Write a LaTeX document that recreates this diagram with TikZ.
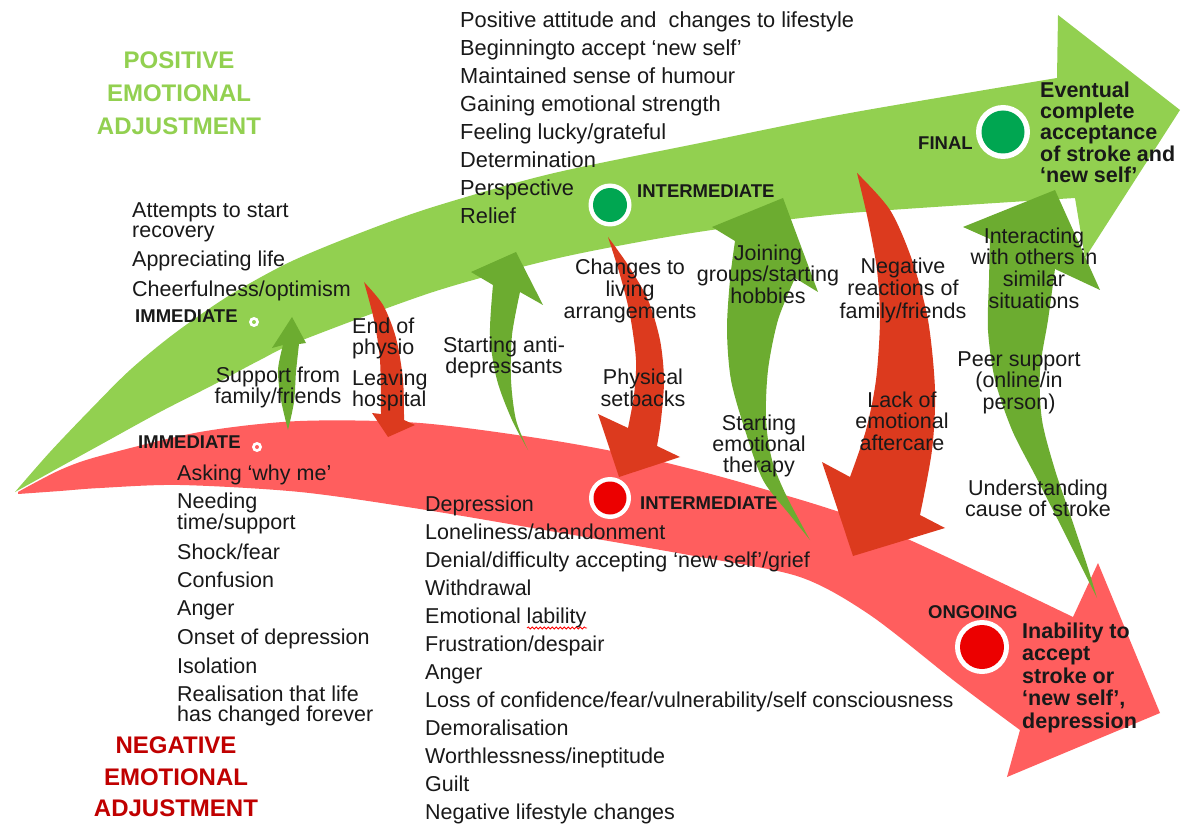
\documentclass[tikz,border=0pt]{standalone}
\usepackage{fontspec}
\setmainfont{Liberation Sans}
\usetikzlibrary{decorations.pathmorphing}
\definecolor{bandG}{RGB}{146,208,80}
\definecolor{arrG}{RGB}{108,172,48}
\definecolor{bandR}{RGB}{255,94,94}
\definecolor{arrR}{RGB}{220,58,30}
\definecolor{dotG}{RGB}{0,166,81}
\definecolor{dotR}{RGB}{236,0,0}
\definecolor{titG}{RGB}{146,208,80}
\definecolor{titR}{RGB}{192,0,0}
\definecolor{txt}{RGB}{25,25,25}
\begin{document}
\begin{tikzpicture}[x=1pt,y=-1pt,
  lbl/.style={inner sep=0pt, text=txt, font=\fontsize{21.5}{21.5}\selectfont},
  clbl/.style={lbl, align=center, anchor=north},
  llist/.style={lbl, align=left, anchor=north west},
  stage/.style={inner sep=0pt, text=txt, font=\bfseries\fontsize{18.5}{18.5}\selectfont, anchor=base west},
  outcome/.style={inner sep=0pt, text=txt, align=left, anchor=north west},
  title/.style={inner sep=0pt, align=center, anchor=north},
]
\useasboundingbox (0,0) rectangle (1187,829);
\fill[white] (0,0) rectangle (1187,829);

% positive band
\fill[bandG] plot[smooth] coordinates {(15,492) (50,452) (90,410) (130,370) (175,333) (230,295) (290,262) (360,233) (433,207) (550,174) (700,143) (850,113) (1057,78)}
  -- (1058,15) -- (1180,110) -- (1085,258)
  -- plot[smooth] coordinates {(1075,198) (850,213) (733,227) (650,240) (550,260) (433,292) (300,341) (260,360) (213,385) (160,412) (100,445) (60,467) (15,492)} -- cycle;

% negative band
\fill[bandR] plot[smooth] coordinates {(18,492) (60,470) (100,456) (200,432) (300,421) (420,423) (550,440) (650,459) (750,485) (880,527) (1073,617)}
  -- (1098,563) -- (1160,713) -- (1007,777)
  -- plot[smooth] coordinates {(1020,730) (957,683) (870,615) (800,577) (700,557) (550,531) (420,509) (300,492) (180,485) (100,488) (60,491) (18,494)} -- cycle;

% red influence arrows
\fill[arrR] plot[smooth] coordinates {(364,282) (374,320) (380,360) (381,414)} -- (372,413) -- (388,437) -- (415,425)
  -- plot[smooth] coordinates {(404,420) (403,380) (396,338) (383,305) (364,282)} -- cycle;
\fill[arrR] plot[smooth] coordinates {(608,237) (628,265) (648,300) (660,340) (664,380) (661,420) (657,446)} -- (680,457) -- (619,477) -- (598,414)
  -- plot[smooth] coordinates {(628,428) (634,395) (636,360) (630,315) (620,275) (608,237)} -- cycle;
\fill[arrR] plot[smooth] coordinates {(857,173) (890,210) (912,260) (928,320) (935,390) (932,450) (920,515)} -- (945,528) -- (853,556) -- (822,462)
  -- plot[smooth] coordinates {(850,477) (866,430) (876,380) (880,320) (877,270) (868,220) (857,173)} -- cycle;

% green influence arrows
\fill[arrG] plot[smooth] coordinates {(288,430) (281,400) (278,370) (283,345)} -- (272,348) -- (292,317) -- (306,343)
  -- plot[smooth] coordinates {(299,344) (296,372) (294,402) (288,430)} -- cycle;
\fill[arrG] plot[smooth] coordinates {(528,450) (512,420) (497,380) (490,335) (493,285)} -- (471,272) -- (516,252) -- (543,305)
  -- plot[smooth] coordinates {(520,292) (512,335) (511,380) (516,420) (528,450)} -- cycle;
\fill[arrG] plot[smooth] coordinates {(810,540) (790,515) (763,480) (745,430) (731,380) (727,330) (730,280) (735,241)} -- (712,227) -- (783,198) -- (818,292)
  -- plot[smooth] coordinates {(795,278) (778,320) (768,370) (766,420) (772,460) (786,495) (810,540)} -- cycle;
\fill[arrG] plot[smooth] coordinates {(1097,598) (1078,560) (1058,520) (1035,475) (1012,430) (995,380) (988,330) (989,280) (990,239)} -- (963,227) -- (1055,190) -- (1100,290)
  -- plot[smooth] coordinates {(1055,269) (1048,320) (1040,370) (1042,420) (1055,470) (1072,520) (1087,565) (1097,598)} -- cycle;

% stage dots
\fill[white] (254,322) circle (5pt); \fill[bandG] (254,322) circle (2pt);
\fill[white] (257,447) circle (5pt); \fill[bandR] (257,447) circle (2pt);
\fill[white] (610,205) circle (21.5pt); \fill[dotG] (610,205) circle (17pt);
\fill[white] (1003,132) circle (27pt); \fill[dotG] (1003,132) circle (21.5pt);
\fill[white] (610,498) circle (21pt); \fill[dotR] (610,498) circle (16.5pt);
\fill[white] (982,647) circle (27pt); \fill[dotR] (982,647) circle (22pt);

% titles
\node[title, text=titG, font=\bfseries\fontsize{24}{33}\selectfont] (titG) at (179,52) {POSITIVE\\EMOTIONAL\\ADJUSTMENT};
\node[title, text=titR, font=\bfseries\fontsize{24}{31.5}\selectfont] (titR) at (176,737) {NEGATIVE\\EMOTIONAL\\ADJUSTMENT};

% stage labels
\node[stage] (immG) at (135,323) {IMMEDIATE};
\node[stage] (immR) at (138,448) {IMMEDIATE};
\node[stage] (intG) at (637,198) {INTERMEDIATE};
\node[stage] (intR) at (640,509) {INTERMEDIATE};
\node[stage] (fin) at (918,150) {FINAL};
\node[stage] (ong) at (928,618) {ONGOING};

% outcomes
\node[outcome, font=\bfseries\fontsize{21.5}{21.3}\selectfont] (event) at (1040,81.6) {Eventual\\complete\\acceptance\\of stroke and\\‘new self’};
\node[outcome, font=\bfseries\fontsize{21.5}{22.5}\selectfont] (inab) at (1022,622.5) {Inability to\\accept\\stroke or\\‘new self’,\\depression};

% lists
\node[llist, font=\fontsize{21.8}{28}\selectfont] (toplist) at (460,11.5) {Positive attitude and\ \ changes to lifestyle\\Beginningto accept ‘new self’\\Maintained sense of humour\\Gaining emotional strength\\Feeling lucky/grateful\\Determination\\Perspective\\Relief};
\node[llist, font=\fontsize{21.5}{19.5}\selectfont] (posimm) at (132,202.6) {Attempts to start\\recovery\\[8pt]Appreciating life\\[9pt]Cheerfulness/optimism};
\node[llist, font=\fontsize{21.5}{20}\selectfont] (negimm) at (177,464.5) {Asking ‘why me’\\[7.5pt]Needing\\time/support\\[8.5pt]Shock/fear\\[8pt]Confusion\\[8pt]Anger\\[8pt]Onset of depression\\[8pt]Isolation\\[8pt]Realisation that life\\has changed forever};
\node[llist, font=\fontsize{21.5}{28}\selectfont] (negint) at (425,495.5) {Depression\\Loneliness/abandonment\\Denial/difficulty accepting ‘new self’/grief\\Withdrawal\\Emotional lability\\Frustration/despair\\Anger\\Loss of confidence/fear/vulnerability/self consciousness\\Demoralisation\\Worthlessness/ineptitude\\Guilt\\Negative lifestyle changes};
\draw[red, line width=0.8pt, decorate, decoration={snake, amplitude=1.1pt, segment length=4pt}] (527,628) -- (587,628);

% influence labels
\node[clbl, font=\fontsize{21.5}{20}\selectfont] (sup) at (278,366.5) {Support from\\family/friends};
\node[llist, font=\fontsize{21.5}{21}\selectfont] (endp) at (352,317.5) {End of\\physio\\[10pt]Leaving\\hospital};
\node[clbl, font=\fontsize{21.5}{21}\selectfont] (anti) at (504,336.5) {Starting anti-\\depressants};
\node[clbl, font=\fontsize{21.5}{22}\selectfont] (chg) at (630,258.5) {Changes to\\living\\arrangements};
\node[clbl, font=\fontsize{21.5}{22}\selectfont] (phys) at (643,368.5) {Physical\\setbacks};
\node[clbl, font=\fontsize{21.5}{21.5}\selectfont] (join) at (768,244.5) {Joining\\groups/starting\\hobbies};
\node[clbl, font=\fontsize{21.5}{21}\selectfont] (emot) at (759,414.5) {Starting\\emotional\\therapy};
\node[clbl, font=\fontsize{21.5}{22.5}\selectfont] (neg) at (903,257.5) {Negative\\reactions of\\family/friends};
\node[clbl, font=\fontsize{21.5}{21.5}\selectfont] (lack) at (902,391.5) {Lack of\\emotional\\aftercare};
\node[clbl, font=\fontsize{21.5}{21.7}\selectfont] (inter) at (1034,227.5) {Interacting\\with others in\\similar\\situations};
\node[clbl, font=\fontsize{21.5}{21.5}\selectfont] (peer) at (1019,351.5) {Peer support\\(online/in\\person)};
\node[clbl, font=\fontsize{21.5}{20}\selectfont] (under) at (1038,479.5) {Understanding\\cause of stroke};
\end{tikzpicture}
\end{document}
